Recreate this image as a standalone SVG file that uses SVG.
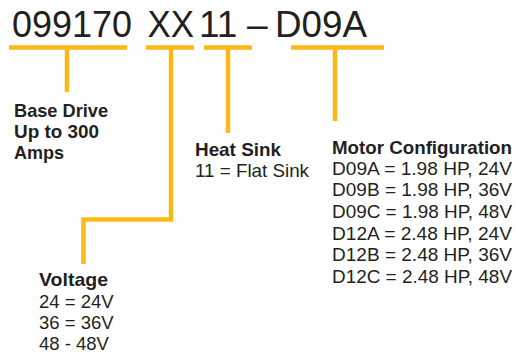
<svg xmlns="http://www.w3.org/2000/svg" width="516" height="356" viewBox="0 0 516 356">
<style>
.ln{fill:none;stroke:#FDB817;stroke-width:4.5;stroke-linejoin:miter;stroke-linecap:butt}
.big{font-family:"Liberation Sans",Arial,sans-serif;font-size:37px;fill:#231f20}
.hd{font-family:"Liberation Sans",Arial,sans-serif;font-size:19px;font-weight:bold;fill:#231f20}
.tx{font-family:"Liberation Sans",Arial,sans-serif;font-size:18.5px;fill:#231f20}
</style>
<rect width="516" height="356" fill="#ffffff"/>
<g id="partnumber">
<text class="big" x="12" y="37" textLength="120" lengthAdjust="spacingAndGlyphs">099170</text>
<text class="big" x="147.5" y="37" textLength="46.5" lengthAdjust="spacingAndGlyphs">XX</text>
<text class="big" x="199" y="37">11</text>
<text class="big" x="247" y="37">–</text>
<text class="big" x="275" y="37" textLength="92" lengthAdjust="spacingAndGlyphs">D09A</text>
</g>
<g id="connectors">
<path class="ln" d="M9 47.5H127M67 47.5V92"/>
<path class="ln" d="M146 47.5H194M171 47.5V219.5H83.5V264"/>
<path class="ln" d="M204 47.5H252M228 47.5V133"/>
<path class="ln" d="M291 47.5H384M335 47.5V121"/>
</g>
<g id="base-drive">
<text class="hd" x="14" y="117" textLength="94" lengthAdjust="spacingAndGlyphs">Base Drive</text>
<text class="hd" x="14" y="138" textLength="85" lengthAdjust="spacingAndGlyphs">Up to 300</text>
<text class="hd" x="14" y="159" textLength="50" lengthAdjust="spacingAndGlyphs">Amps</text>
</g>
<g id="heat-sink">
<text class="hd" x="195" y="156" textLength="86" lengthAdjust="spacingAndGlyphs">Heat Sink</text>
<text class="tx" x="195" y="177" textLength="114" lengthAdjust="spacingAndGlyphs">11 = Flat Sink</text>
</g>
<g id="motor-configuration">
<text class="hd" x="332" y="153.5" textLength="180" lengthAdjust="spacingAndGlyphs">Motor Configuration</text>
<text class="tx" x="332" y="174.5" textLength="180" lengthAdjust="spacingAndGlyphs">D09A = 1.98 HP, 24V</text>
<text class="tx" x="332" y="196" textLength="180" lengthAdjust="spacingAndGlyphs">D09B = 1.98 HP, 36V</text>
<text class="tx" x="332" y="217.5" textLength="180" lengthAdjust="spacingAndGlyphs">D09C = 1.98 HP, 48V</text>
<text class="tx" x="332" y="239.5" textLength="180" lengthAdjust="spacingAndGlyphs">D12A = 2.48 HP, 24V</text>
<text class="tx" x="332" y="261" textLength="180" lengthAdjust="spacingAndGlyphs">D12B = 2.48 HP, 36V</text>
<text class="tx" x="332" y="282.5" textLength="180" lengthAdjust="spacingAndGlyphs">D12C = 2.48 HP, 48V</text>
</g>
<g id="voltage">
<text class="hd" x="39" y="286" textLength="69" lengthAdjust="spacingAndGlyphs">Voltage</text>
<text class="tx" x="39" y="308">24 = 24V</text>
<text class="tx" x="39" y="329">36 = 36V</text>
<text class="tx" x="39" y="350">48 - 48V</text>
</g>
</svg>
